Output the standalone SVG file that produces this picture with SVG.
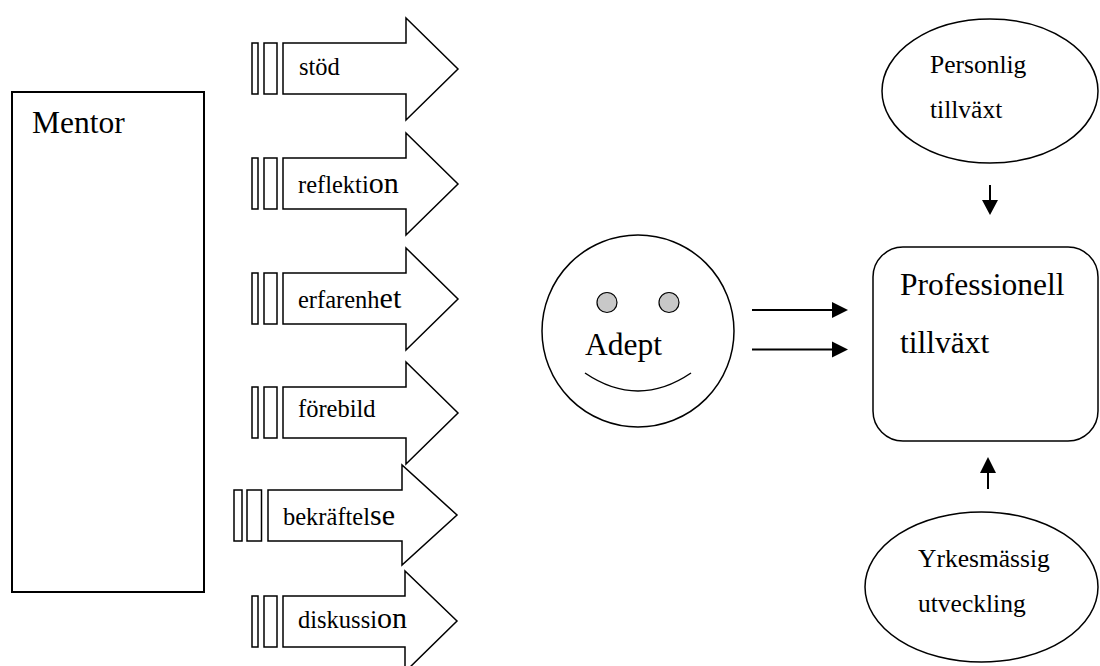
<svg xmlns="http://www.w3.org/2000/svg" width="1100" height="666" viewBox="0 0 1100 666">
<style>
.s{fill:#fff;stroke:#000;stroke-width:1.5}
.t{font-family:"Liberation Serif","Times New Roman",serif;fill:#000}
.sm{font-size:24.5px}
.el{font-size:25.5px}
.lg{font-size:30px}
.ln{stroke:#000;stroke-width:2;fill:none}
.hd{fill:#000;stroke:none}
</style>
<rect width="1100" height="666" fill="#fff"/>
<g id="mentor">
<rect x="12" y="92" width="192" height="500" fill="#fff" stroke="#000" stroke-width="2"/>
<text class="t" x="32" y="133" font-size="31.5">Mentor</text>
</g>
<g id="arrow-stod" transform="translate(0,43)">
<rect class="s" x="252" y="0" width="6" height="51"/>
<rect class="s" x="264" y="0" width="13" height="51"/>
<path class="s" d="M283,0 H406 V-25 L458,26 L406,77 V51 H283 Z"/>
<text class="t sm" x="299" y="32">stöd</text>
</g>
<g id="arrow-reflektion" transform="translate(0,158)">
<rect class="s" x="252" y="0" width="6" height="51"/>
<rect class="s" x="264" y="0" width="13" height="51"/>
<path class="s" d="M283,0 H406 V-25 L458,26 L406,77 V51 H283 Z"/>
<text class="t sm" x="298" y="35">reflekti<tspan class="lg">on</tspan></text>
</g>
<g id="arrow-erfarenhet" transform="translate(0,273)">
<rect class="s" x="252" y="0" width="6" height="51"/>
<rect class="s" x="264" y="0" width="13" height="51"/>
<path class="s" d="M283,0 H406 V-25 L458,26 L406,77 V51 H283 Z"/>
<text class="t sm" x="298" y="35">erfarenh<tspan class="lg">et</tspan></text>
</g>
<g id="arrow-forebild" transform="translate(0,387)">
<rect class="s" x="252" y="0" width="6" height="51"/>
<rect class="s" x="264" y="0" width="13" height="51"/>
<path class="s" d="M283,0 H406 V-25 L458,26 L406,77 V51 H283 Z"/>
<text class="t sm" x="298" y="30">förebild</text>
</g>
<g id="arrow-bekraftelse" transform="translate(0,490)">
<rect class="s" x="234" y="0" width="8" height="51"/>
<rect class="s" x="247" y="0" width="14.5" height="51"/>
<path class="s" d="M268,0 H402 V-25 L457,25 L402,75 V51 H268 Z"/>
<text class="t sm" x="283" y="35">bekräftel<tspan class="lg">se</tspan></text>
</g>
<g id="arrow-diskussion" transform="translate(0,596)">
<rect class="s" x="252" y="0" width="6" height="51"/>
<rect class="s" x="264" y="0" width="13" height="51"/>
<path class="s" d="M283,0 H405 V-25 L457,25 L405,76 V51 H283 Z"/>
<text class="t sm" x="298" y="32">diskussi<tspan class="lg">on</tspan></text>
</g>
<g id="adept">
<circle class="s" cx="638" cy="331" r="96"/>
<circle cx="607" cy="302.5" r="10" fill="#c8c8c8" stroke="#000" stroke-width="1.2"/>
<circle cx="669" cy="302.5" r="10" fill="#c8c8c8" stroke="#000" stroke-width="1.2"/>
<text class="t" x="585" y="355" font-size="31.5">Adept</text>
<path d="M585,373 Q638,409 691,373" fill="none" stroke="#000" stroke-width="1.5"/>
</g>
<g id="professionell">
<rect class="s" x="873" y="247" width="225" height="194" rx="30" ry="30"/>
<text class="t" x="900" y="295" font-size="31.5">Professionell</text>
<text class="t" x="900" y="353" font-size="31.5">tillväxt</text>
</g>
<g id="personlig">
<ellipse class="s" cx="990" cy="91" rx="108" ry="72"/>
<text class="t el" x="930" y="73">Personlig</text>
<text class="t el" x="930" y="118">tillväxt</text>
</g>
<g id="yrkesmassig">
<ellipse class="s" cx="981.5" cy="587" rx="116.5" ry="75"/>
<text class="t el" x="918" y="567">Yrkesmässig</text>
<text class="t el" x="918" y="612">utveckling</text>
</g>
<g id="connectors">
<line class="ln" x1="752" y1="310" x2="833" y2="310"/>
<polygon class="hd" points="832,302 848,310 832,318"/>
<line class="ln" x1="752" y1="349.5" x2="833" y2="349.5"/>
<polygon class="hd" points="832,341.5 848,349.5 832,357.5"/>
<line class="ln" x1="990" y1="185" x2="990" y2="201"/>
<polygon class="hd" points="982,200 998,200 990,215"/>
<line class="ln" x1="988" y1="472" x2="988" y2="489"/>
<polygon class="hd" points="980,473 996,473 988,457"/>
</g>
</svg>
